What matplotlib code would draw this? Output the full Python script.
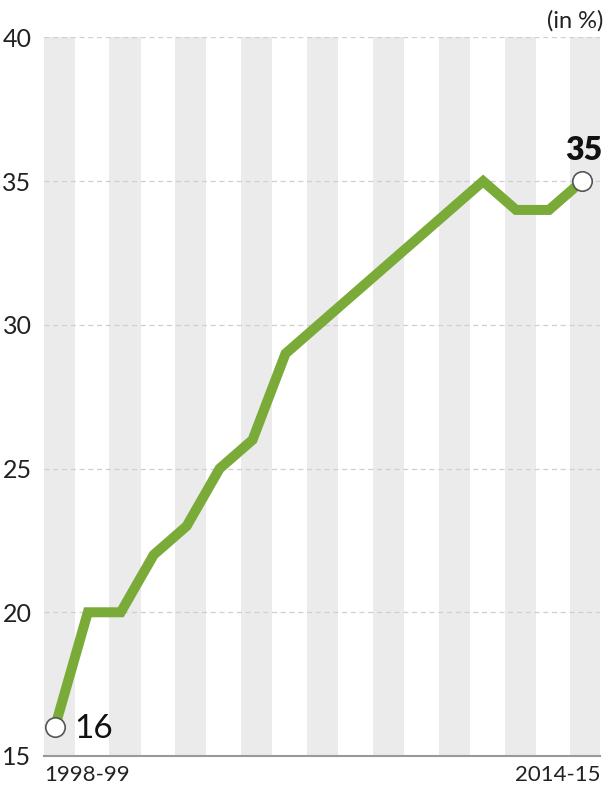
import matplotlib
matplotlib.use("Agg")
import matplotlib.pyplot as plt
import numpy as np

plt.rcParams['font.family'] = ['Lato', 'DejaVu Sans']

years = ['1998-99', '1999-00', '2000-01', '2001-02', '2002-03', '2003-04',
         '2004-05', '2005-06', '2006-07', '2007-08', '2008-09', '2009-10',
         '2010-11', '2011-12', '2012-13', '2013-14', '2014-15']
share = [16, 20, 20, 22, 23, 25, 26, 29, 30, 31, 32, 33, 34, 35, 34, 34, 35]

green = '#7aab38'

fig = plt.figure(figsize=(6.08, 7.86), dpi=100)
ax = fig.add_axes([0.0724, 0.0382, 0.9146, 0.9141])

x = np.arange(len(years))

# grey columns behind every other year
for i in x[::2]:
    ax.axvspan(i - 0.35, i + 0.6, color='#ebebeb', lw=0, zorder=0)

for yv in [20, 25, 30, 35, 40]:
    ax.axhline(yv, color='#cfcfcf', lw=0.9, ls=(0, (4, 3)), zorder=1)

ax.plot(x, share, color=green, lw=7.2, solid_joinstyle='miter', zorder=3)
ax.plot([x[0], x[-1]], [share[0], share[-1]], 'o', ms=14, mfc='white',
        mec='#555555', mew=1.2, zorder=4)

ax.text(x[0] + 0.6, share[0] - 0.05, str(share[0]), fontsize=24,
        ha='left', va='center', color='#111111')
ax.text(x[-1] + 0.05, share[-1] + 0.55, str(share[-1]), fontsize=23,
        fontweight='heavy', ha='center', va='bottom', color='#111111')

ax.set_xlim(-0.33, 16.55)
ax.set_ylim(15, 40)
ax.set_yticks([15, 20, 25, 30, 35, 40])
ax.set_yticklabels(['15', '20', '25', '30', '35', '40'])
ax.set_xticks([])
ax.tick_params(axis='y', length=0, pad=9, labelsize=18, labelcolor='#222222')

# end labels under the axis
ax.text(0, -0.012, years[0], transform=ax.transAxes, fontsize=16,
        ha='left', va='top', color='#222222')
ax.text(1.0, -0.012, years[-1], transform=ax.transAxes, fontsize=16,
        ha='right', va='top', color='#222222')

for s in ['top', 'right', 'left']:
    ax.spines[s].set_visible(False)
ax.spines['bottom'].set_color('#999999')
ax.spines['bottom'].set_linewidth(1.5)

fig.text(0.992, 0.987, '(in %)', fontsize=17, ha='right', va='top',
         color='#222222')

fig.savefig('out.png', dpi=100)
